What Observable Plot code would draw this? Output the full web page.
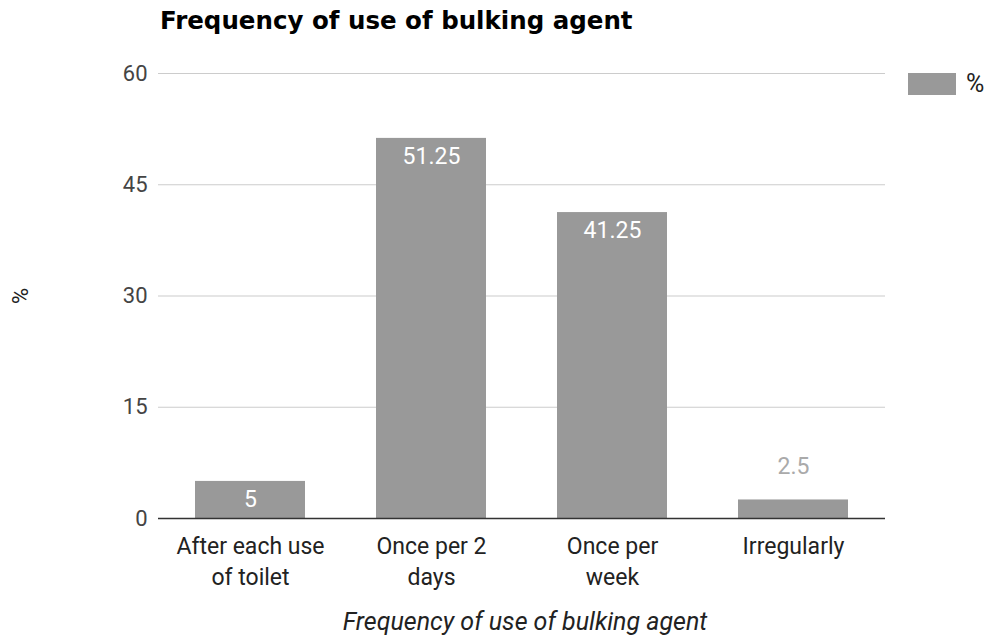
<!DOCTYPE html>
<html>
<head>
<meta charset="utf-8">
<script src="https://cdn.jsdelivr.net/npm/d3@7"></script>
<script src="https://cdn.jsdelivr.net/npm/@observablehq/plot@0.6"></script>
<style>
  html, body { margin: 0; padding: 0; background: #fff; }
  svg { display: block; }
</style>
</head>
<body>
<div id="chart"></div>
<script>
// Survey answers: how often the bulking agent is used
const categories = ["After each use of toilet", "Once per 2 days", "Once per week", "Irregularly"];
const tickLabels = ["After each use\nof toilet", "Once per 2\ndays", "Once per\nweek", "Irregularly"];
const percents = [5, 51.25, 41.25, 2.5];
const yTicks = [0, 15, 30, 45, 60];

const titleText = "Frequency of use of bulking agent";
const xTitle = "Frequency of use of bulking agent";
const yTitle = "%";
const seriesName = "%";

const data = categories.map((c, i) => ({category: c, value: percents[i]}));
const labelOf = new Map(categories.map((c, i) => [c, tickLabels[i]]));

const W = 989, H = 637;
const barColor = "#999999";
const font = "Roboto, 'Liberation Sans', sans-serif";

const chart = Plot.plot({
  width: W,
  height: H,
  marginLeft: 158,
  marginRight: 104,
  marginTop: 73,
  marginBottom: 119,
  style: {fontFamily: font, fontSize: "22px", color: "#444", background: "#fff"},
  x: {domain: categories, paddingInner: 0.392, paddingOuter: 0.204, label: null},
  y: {domain: [0, 60], label: null},
  marks: [
    Plot.gridY(yTicks, {stroke: "#cccccc", strokeOpacity: 1, strokeWidth: 1.2}),
    Plot.axisY(yTicks, {tickSize: 0, tickPadding: 11, fontSize: 22, fill: "#444", label: null}),
    Plot.barY(data, {x: "category", y: "value", fill: barColor}),
    Plot.ruleY([0], {stroke: "#333", strokeWidth: 1.5}),
    Plot.axisX({
      tickSize: 0, tickPadding: 13, fontSize: 23, fill: "#222",
      lineHeight: 1.35, tickFormat: d => labelOf.get(d), label: null
    }),
    // values that fit sit inside the bar top in white
    Plot.text(data.filter(d => d.value > 4), {
      x: "category", y: "value", text: d => String(d.value),
      fill: "#ffffff", fontSize: 23, dy: 18
    }),
    // short bars get their value above the bar
    Plot.text(data.filter(d => d.value <= 4), {
      x: "category", y: "value", text: d => String(d.value),
      fill: "#aaaaaa", fontSize: 23, dy: -33
    })
  ]
});

const svg = d3.select(chart);

// title
svg.append("text")
  .attr("x", 160).attr("y", 29)
  .attr("text-anchor", "start")
  .attr("font-family", "'DejaVu Sans', sans-serif")
  .attr("font-weight", "bold")
  .attr("font-size", 24.5)
  .attr("fill", "#000")
  .text(titleText);

// y axis title
svg.append("text")
  .attr("transform", "translate(28,296) rotate(-90)")
  .attr("text-anchor", "middle")
  .attr("font-family", font)
  .attr("font-size", 22)
  .attr("fill", "#222")
  .text(yTitle);

// x axis title
svg.append("text")
  .attr("x", 525).attr("y", 630)
  .attr("text-anchor", "middle")
  .attr("font-family", font)
  .attr("font-style", "italic")
  .attr("font-size", 25)
  .attr("fill", "#222")
  .text(xTitle);

// legend
svg.append("rect")
  .attr("x", 908).attr("y", 73).attr("width", 48).attr("height", 22)
  .attr("fill", barColor);
svg.append("text")
  .attr("x", 966).attr("y", 92)
  .attr("text-anchor", "start")
  .attr("font-family", font)
  .attr("font-size", 25)
  .attr("fill", "#222")
  .text(seriesName);

document.getElementById("chart").appendChild(chart);
</script>
</body>
</html>
